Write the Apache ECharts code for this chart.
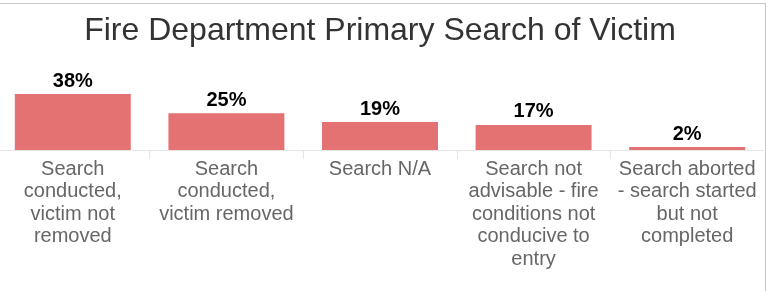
<!DOCTYPE html>
<html>
<head>
<meta charset="utf-8">
<script src="https://cdn.jsdelivr.net/npm/echarts@6/dist/echarts.min.js"></script>
<style>
  html, body { margin: 0; padding: 0; background: #fff; overflow: hidden; }
  #wrap { position: absolute; left: -1px; top: 3px; width: 767px; height: 300px; border: 1px solid #c8c8c8; box-sizing: border-box; }
  #chart { position: absolute; left: -4px; top: -4px; width: 768px; height: 291px; }
</style>
</head>
<body>
<div id="wrap"></div>
<div id="chart"></div>
<script>
// categories (line breaks as in the picture)
const categories = [
    'Search\nconducted,\nvictim not\nremoved',
    'Search\nconducted,\nvictim removed',
    'Search N/A',
    'Search not\nadvisable - fire\nconditions not\nconducive to\nentry',
    'Search aborted\n- search started\nbut not\ncompleted'
]
const values = [38, 25, 19, 17, 2]

const myChart = echarts.init(document.getElementById('chart'))

let option = {
    animation: false,
    title: {
        text: 'Fire Department Primary Search of Victim',
        left: 'center',
        top: 14,
        textStyle: {
            fontFamily: 'Liberation Sans, Arial, sans-serif',
            fontSize: 32,
            fontWeight: 'normal',
            color: '#333'
        }
    },
    grid: {
        left: 0,
        right: 0,
        top: 98,
        bottom: 137,
        containLabel: false
    },
    xAxis: {
        type: 'category',
        data: categories,
        axisLine: { lineStyle: { color: '#e6e6e6' } },
        axisTick: { show: true, length: 9, lineStyle: { color: '#e6e6e6' } },
        axisLabel: {
            interval: 0,
            margin: 8,
            fontFamily: 'Liberation Sans, Arial, sans-serif',
            fontSize: 20,
            lineHeight: 22.5,
            color: '#666'
        }
    },
    yAxis: {
        type: 'value',
        min: 0,
        max: 38,
        show: false
    },
    series: [{
        type: 'bar',
        data: values,
        barCategoryGap: '24.5%',
        itemStyle: { color: '#e47272' },
        label: {
            show: true,
            position: 'top',
            distance: 3,
            formatter: '{c}%',
            fontFamily: 'Liberation Sans, Arial, sans-serif',
            fontSize: 20,
            fontWeight: 'bold',
            color: '#000'
        }
    }]
}
option && myChart.setOption(option)
</script>
</body>
</html>
